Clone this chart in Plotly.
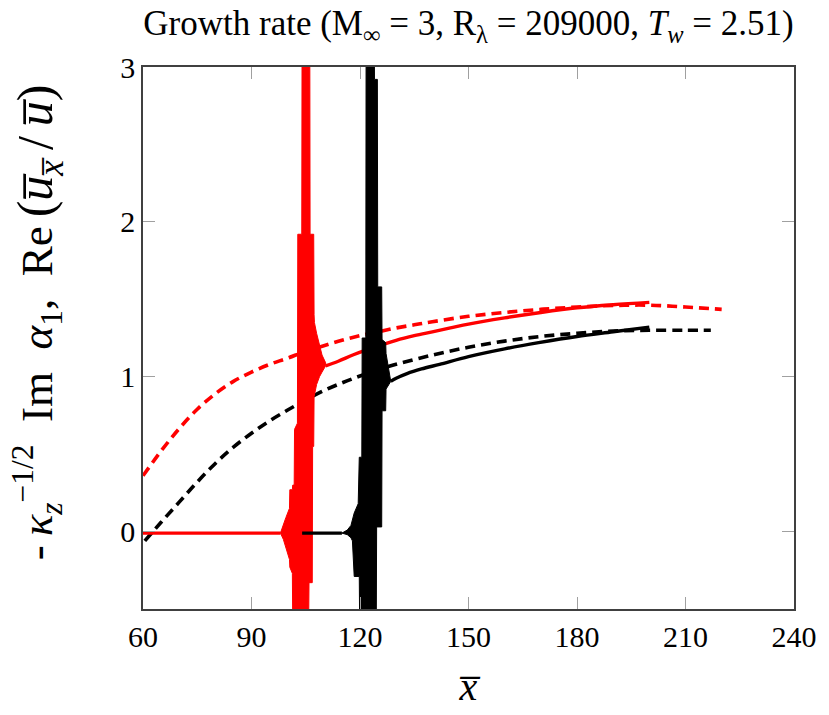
import plotly.graph_objects as go

# ---------------- data ----------------
# red solid: flat part before the oscillation burst and smooth part after it
red_pre_x = [60, 98.0]
red_pre_y = [-0.01, -0.01]
red_post_x = [110.5, 114, 118, 122, 126, 130, 135, 140, 145, 150, 160, 170, 180, 190, 200]
red_post_y = [1.07, 1.10, 1.14, 1.175, 1.205, 1.235, 1.265, 1.29, 1.315, 1.34, 1.38, 1.415, 1.445, 1.465, 1.48]

# red oscillation burst envelope
red_burst_x = [98.0, 98.8, 99.5, 100.5, 100.6, 101.3, 101.4, 101.8, 101.9, 102.7, 102.8, 103.9, 104.0,
               105.8, 105.9, 106.1, 106.2, 106.8, 106.9, 107.2, 107.3, 107.4, 108.0, 108.8, 109.5, 110.5]
red_burst_lo = [-0.01, -0.05, -0.10, -0.18, -0.23, -0.27, -0.6, -0.6, -0.6, -0.6, -0.6, -0.6, -0.6,
                -0.6, -0.33, -0.33, -0.33, -0.33, 0.55, 0.55, 0.87, 0.87, 0.95, 1.00, 1.03, 1.07]
red_burst_hi = [-0.01, 0.05, 0.09, 0.15, 0.27, 0.27, 0.30, 0.30, 0.66, 0.70, 1.92, 1.92, 3.5,
                3.5, 3.5, 3.5, 1.92, 1.92, 1.92, 1.92, 1.40, 1.35, 1.28, 1.20, 1.14, 1.09]

# red dashed
red_dash_x = [60, 65, 70, 75, 80, 85, 90, 95, 100, 105, 110, 115, 120, 125, 130, 135, 140, 150, 160,
              170, 180, 190, 200, 210, 220]
red_dash_y = [0.36, 0.52, 0.665, 0.79, 0.89, 0.97, 1.03, 1.08, 1.12, 1.165, 1.20, 1.235, 1.265, 1.29,
              1.315, 1.335, 1.355, 1.39, 1.415, 1.435, 1.45, 1.46, 1.462, 1.45, 1.435]

# black solid
blk_pre_x = [104, 115.0]
blk_pre_y = [-0.01, -0.01]
blk_post_x = [128.5, 130, 133, 137, 142, 150, 160, 169.4, 180, 190, 200]
blk_post_y = [0.97, 0.99, 1.02, 1.05, 1.08, 1.13, 1.18, 1.22, 1.26, 1.29, 1.32]

# black oscillation burst envelope
blk_burst_x = [115.0, 116.5, 117.5, 117.9, 118.4, 119.5, 119.6, 119.8, 119.9, 120.5, 120.6, 121.6, 121.7,
               123.9, 124.0, 124.5, 124.6, 124.8, 124.9, 126.0, 126.1, 127.1, 127.2, 128.0, 128.5]
blk_burst_lo = [-0.01, -0.02, -0.04, -0.06, -0.29, -0.29, -0.29, -0.29, -0.6, -0.6, -0.6, -0.6, -0.6,
                -0.6, -0.6, -0.6, 0.03, 0.03, 0.03, 0.03, 0.78, 0.78, 0.92, 0.95, 0.97]
blk_burst_hi = [-0.01, 0.01, 0.04, 0.08, 0.12, 0.18, 0.48, 0.48, 0.48, 0.48, 1.25, 1.25, 3.5,
                3.5, 2.92, 2.92, 2.92, 2.92, 1.58, 1.58, 1.24, 1.22, 1.15, 1.05, 0.99]

# black dashed
blk_dash_x = [60.5, 65, 70, 75, 80, 85, 90, 95, 100, 105, 110, 115, 120, 125, 130, 140, 150, 160, 170,
              180, 190, 200, 210, 217]
blk_dash_y = [-0.06, 0.06, 0.19, 0.32, 0.44, 0.545, 0.635, 0.715, 0.785, 0.85, 0.91, 0.96, 1.005, 1.045,
              1.08, 1.14, 1.19, 1.23, 1.26, 1.28, 1.295, 1.30, 1.30, 1.30]

x_ticks = [60, 90, 120, 150, 180, 210, 240]
y_ticks = [0, 1, 2, 3]

RED = "#ff0000"
BLK = "#000000"
FONT = "Liberation Serif"
DASH = "10px,6px"

fig = go.Figure()

# black dashed (bottom)
fig.add_trace(go.Scatter(x=blk_dash_x, y=blk_dash_y, mode="lines", line_shape="spline",
                         line=dict(color=BLK, width=3.6, dash=DASH), hoverinfo="skip"))
# red solid
fig.add_trace(go.Scatter(x=red_pre_x, y=red_pre_y, mode="lines",
                         line=dict(color=RED, width=3.4), hoverinfo="skip"))
fig.add_trace(go.Scatter(x=red_burst_x + red_burst_x[::-1], y=red_burst_hi + red_burst_lo[::-1],
                         mode="lines", fill="toself", fillcolor=RED,
                         line=dict(color=RED, width=1), hoverinfo="skip"))
fig.add_trace(go.Scatter(x=red_post_x, y=red_post_y, mode="lines", line_shape="spline",
                         line=dict(color=RED, width=3.4), hoverinfo="skip"))
# red dashed
fig.add_trace(go.Scatter(x=red_dash_x, y=red_dash_y, mode="lines", line_shape="spline",
                         line=dict(color=RED, width=3.6, dash=DASH), hoverinfo="skip"))
# black solid (top)
fig.add_trace(go.Scatter(x=blk_pre_x, y=blk_pre_y, mode="lines",
                         line=dict(color=BLK, width=3.4), hoverinfo="skip"))
fig.add_trace(go.Scatter(x=blk_burst_x + blk_burst_x[::-1], y=blk_burst_hi + blk_burst_lo[::-1],
                         mode="lines", fill="toself", fillcolor=BLK,
                         line=dict(color=BLK, width=1), hoverinfo="skip"))
fig.add_trace(go.Scatter(x=blk_post_x, y=blk_post_y, mode="lines", line_shape="spline",
                         line=dict(color=BLK, width=3.4), hoverinfo="skip"))

axis_common = dict(showgrid=False, zeroline=False, showline=True, mirror="ticks",
                   linecolor="#404040", linewidth=1.5, ticks="inside", ticklen=12,
                   tickcolor="#a0a0a0", tickwidth=1,
                   tickfont=dict(family=FONT, size=30, color="black"))

SP = "\u2002"
TH = "\u2009"
ylabel = ("-\u2009<i>κ<sub>z</sub></i><sup>−1/2</sup>" + SP + "Im" + SP + "<i>α</i><sub>1</sub>," + SP + "Re" + TH +
          "<span style='font-size:50px'>(<i>u\u0305<sub>x\u0305</sub></i>" + TH + "/" + TH + "<i>u\u0305</i>)</span>")

# the page body adds an 8 px offset, so the figure is 8 px smaller than the window
fig.update_layout(
    width=821, height=707,
    margin=dict(l=135, r=33, t=59, b=106),
    paper_bgcolor="white", plot_bgcolor="white",
    showlegend=False,
    title=dict(text="Growth rate (M<sub>∞</sub> = 3, R<sub>λ</sub> = 209000, <i>T<sub>w</sub></i> = 2.51)",
               x=0.5, xref="paper", xanchor="center", y=1 - 15 / 707, yref="container", yanchor="middle",
               font=dict(family=FONT, size=35, color="black")),
    xaxis=dict(range=[60, 240], tickvals=x_ticks, ticktext=[str(v) for v in x_ticks],
               title=dict(text="<i>x\u0305</i>", font=dict(family=FONT, size=40, color="black"), standoff=20),
               **axis_common),
    yaxis=dict(range=[-0.5, 3], tickvals=y_ticks, ticktext=[str(v) for v in y_ticks], **axis_common),
    annotations=[dict(text=ylabel, textangle=-90, xref="paper", yref="paper",
                      x=(37 - 143) / 653, y=(609 - 322) / 542, xanchor="center", yanchor="middle",
                      showarrow=False, font=dict(family=FONT, size=45, color="black"))],
)

fig.write_html("out.html")
